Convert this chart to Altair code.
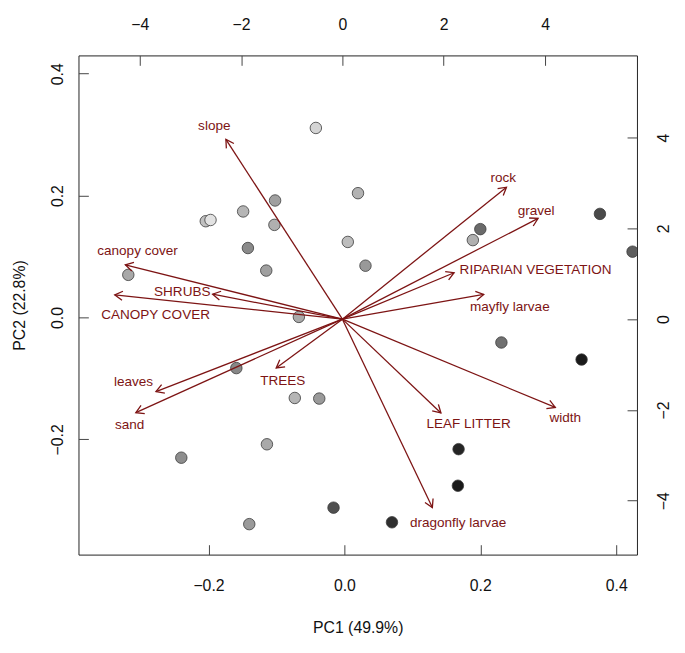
import math
import altair as alt
import pandas as pd

# ---- site scores (primary axes: PC1 / PC2) ----
site_pc1 = [-0.042, 0.020, -0.102, -0.149, -0.204, -0.197, -0.103, -0.142, 0.005, 0.031,
            -0.115, -0.318, -0.067, 0.200, 0.189, 0.376, 0.424, -0.159, -0.073, -0.037,
            -0.114, -0.240, -0.016, -0.140, 0.231, 0.349, 0.168, 0.167, 0.070]
site_pc2 = [0.311, 0.204, 0.192, 0.174, 0.158, 0.160, 0.152, 0.114, 0.124, 0.085,
            0.077, 0.070, 0.001, 0.145, 0.127, 0.170, 0.108, -0.083, -0.132, -0.133,
            -0.208, -0.230, -0.312, -0.339, -0.041, -0.069, -0.216, -0.276, -0.336]
site_fill = ["#d4d4d4", "#b3b3b3", "#a0a0a0", "#b5b5b5", "#c0c0c0", "#e2e2e2", "#b0b0b0",
             "#8a8a8a", "#bdbdbd", "#999999", "#a0a0a0", "#a8a8a8", "#aaaaaa", "#6a6a6a",
             "#b0b0b0", "#4a4a4a", "#5e5e5e", "#888888", "#b5b5b5", "#9a9a9a", "#a9a9a9",
             "#8e8e8e", "#505050", "#9a9a9a", "#707070", "#1a1a1a", "#252525", "#1a1a1a",
             "#2f2f2f"]

# ---- variable loadings (secondary axes: top / right) ----
var_names = ["slope", "canopy cover", "SHRUBS", "CANOPY COVER", "rock", "gravel",
             "RIPARIAN VEGETATION", "mayfly larvae", "leaves", "sand", "TREES",
             "LEAF LITTER", "width", "dragonfly larvae"]
var_x = [-2.30, -4.285, -2.562, -4.494, 3.239, 3.863, 2.205, 2.79, -3.68, -4.078,
         -1.307, 1.945, 4.203, 1.776]
var_y = [3.96, 1.197, 0.55, 0.535, 2.907, 2.219, 1.023, 0.544, -1.597, -2.06,
         -1.075, -2.067, -1.945, -4.149]
label_x = [-2.529, -4.045, -3.161, -3.688, 3.175, 3.824, 3.813, 3.305, -4.123, -4.2,
           -1.176, 2.491, 4.398, 2.283]
label_y = [4.249, 1.493, 0.587, 0.094, 3.118, 2.378, 1.073, 0.274, -1.386, -2.322,
           -1.371, -2.30, -2.176, -4.491]

# ---- layout ----
W, H = 565, 505
X1 = [-0.3913, 0.4305]
Y1 = [-0.389, 0.430]
X2 = [-5.21, 5.815]
Y2 = [-5.187, 5.81]
ARROW = "#7d1414"
FONT = "Liberation Sans"

px_x = W / (X2[1] - X2[0])
px_y = H / (Y2[1] - Y2[0])

sites = pd.DataFrame({"pc1": site_pc1, "pc2": site_pc2, "fill": site_fill})
vars_df = pd.DataFrame({
    "name": var_names, "x0": [0.0] * len(var_x), "y0": [0.0] * len(var_x),
    "x": var_x, "y": var_y, "lx": label_x, "ly": label_y,
})
vars_df["ang"] = [math.degrees(math.atan2(-yy * px_y, xx * px_x)) % 360
                  for xx, yy in zip(var_x, var_y)]

common = dict(domain=False, grid=False, tickSize=10, offset=-10, tickColor="#444",
              tickWidth=1, labelFont=FONT, labelFontSize=16, labelColor="#111",
              labelFlush=False, labelOverlap=False, titleFont=FONT, titleFontSize=16,
              titleFontWeight="normal", titleColor="#111")

ax_bottom = alt.Axis(orient="bottom", values=[-0.2, 0, 0.2, 0.4], format=".1f",
                     title="PC1 (49.9%)", labelPadding=23, titlePadding=27, **common)
ax_left = alt.Axis(orient="left", values=[-0.2, 0, 0.2, 0.4], format=".1f",
                   title="PC2 (22.8%)", labelAngle=270, labelAlign="center",
                   labelBaseline="bottom", labelPadding=13, titlePadding=23, **common)
ax_top = alt.Axis(orient="top", values=[-4, -2, 0, 2, 4], format="d", title=None,
                  labelPadding=23, **common)
ax_right = alt.Axis(orient="right", values=[-4, -2, 0, 2, 4], format="d", title=None,
                    labelAngle=270, labelAlign="center", labelBaseline="top",
                    labelPadding=19, **common)

sx1 = alt.Scale(domain=X1, nice=False, zero=False)
sy1 = alt.Scale(domain=Y1, nice=False, zero=False)
sx2 = alt.Scale(domain=X2, nice=False, zero=False)
sy2 = alt.Scale(domain=Y2, nice=False, zero=False)

points = alt.Chart(sites).mark_point(
    filled=True, shape="circle", size=135, stroke="#3a3a3a", strokeWidth=0.8, opacity=1,
    clip=True
).encode(
    x=alt.X("pc1:Q", scale=sx1, axis=ax_bottom),
    y=alt.Y("pc2:Q", scale=sy1, axis=ax_left),
    fill=alt.Fill("fill:N", scale=None),
)

rules = alt.Chart(vars_df).mark_rule(color=ARROW, strokeWidth=1.3).encode(
    x=alt.X("x0:Q", scale=sx2, axis=ax_top),
    y=alt.Y("y0:Q", scale=sy2, axis=ax_right),
    x2="x:Q",
    y2="y:Q",
)

heads = alt.Chart(vars_df).mark_point(
    shape="M-0.866,-0.5L0,0L-0.866,0.5", size=330, filled=False, stroke=ARROW,
    strokeWidth=1.3, opacity=1
).encode(
    x=alt.X("x:Q", scale=sx2, axis=ax_top),
    y=alt.Y("y:Q", scale=sy2, axis=ax_right),
    angle=alt.Angle("ang:Q", scale=None),
)

labels = alt.Chart(vars_df).mark_text(
    font=FONT, fontSize=13.7, color=ARROW, align="center", baseline="middle"
).encode(
    x=alt.X("lx:Q", scale=sx2, axis=ax_top),
    y=alt.Y("ly:Q", scale=sy2, axis=ax_right),
    text="name:N",
)

arrows = alt.layer(rules, heads, labels)

chart = alt.layer(points, arrows).resolve_scale(
    x="independent", y="independent"
).properties(
    width=W, height=H,
    autosize=alt.AutoSizeParams(type="none"),
    padding={"left": 71.3, "top": 44.3, "right": 40.5, "bottom": 82},
).configure_view(stroke="#222", strokeWidth=1)

chart.save("out.html", embed_options={"renderer": "svg", "actions": False})
